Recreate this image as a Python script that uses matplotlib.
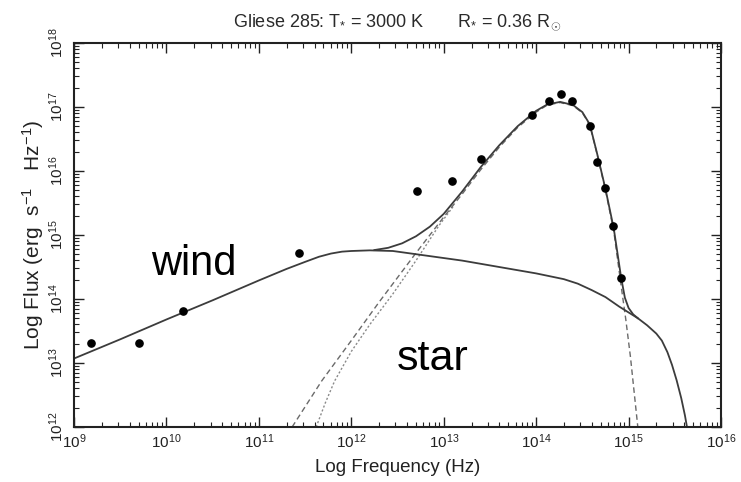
import matplotlib
matplotlib.use("Agg")
import matplotlib.pyplot as plt
import numpy as np
from matplotlib.ticker import FixedLocator, LogFormatterSciNotation, NullFormatter

plt.rcParams['font.family'] = ['Liberation Sans', 'DejaVu Sans']
plt.rcParams['mathtext.fontset'] = 'custom'
plt.rcParams['mathtext.rm'] = 'Liberation Sans'
plt.rcParams['mathtext.it'] = 'Liberation Sans:italic'
plt.rcParams['mathtext.bf'] = 'Liberation Sans:bold'

# Observed photometry of Gliese 285 (log10 frequency [Hz], log10 flux)
obs_lognu = [9.18, 9.70, 10.18, 11.43, 12.71, 13.09, 13.40, 13.95, 14.14,
             14.27, 14.39, 14.58, 14.66, 14.74, 14.83, 14.92]
obs_logf = [13.31, 13.31, 13.81, 14.72, 15.69, 15.84, 16.19, 16.875, 17.09,
            17.20, 17.09, 16.70, 16.14, 15.73, 15.14, 14.33]

# Wind model (free-free emission)
wind_lognu = [9.0, 9.5, 10.0, 10.5, 11.0, 11.3, 11.5, 11.65, 11.78, 11.9,
              12.0, 12.2, 12.45, 12.8, 13.2, 13.6, 14.0, 14.3, 14.45, 14.6,
              14.75, 14.9, 15.0, 15.1, 15.2, 15.3, 15.36, 15.42, 15.47, 15.52,
              15.57, 15.61, 15.65]
wind_logf = [13.07, 13.37, 13.68, 13.98, 14.29, 14.47, 14.58, 14.66, 14.71,
             14.74, 14.75, 14.76, 14.75, 14.68, 14.60, 14.50, 14.40, 14.31,
             14.24, 14.14, 14.03, 13.88, 13.79, 13.70, 13.59, 13.46, 13.35,
             13.17, 12.97, 12.73, 12.45, 12.18, 11.85]

# Stellar photosphere
star_lognu = [11.36, 11.68, 12.0, 12.3, 12.69, 13.0, 13.2, 13.4, 13.6, 13.8,
              14.0, 14.12, 14.26, 14.4, 14.5, 14.58, 14.66, 14.75, 14.84,
              14.92, 14.97, 15.02, 15.06, 15.10]
star_logf = [12.0, 12.72, 13.35, 13.95, 14.70, 15.28, 15.64, 16.02, 16.37,
             16.68, 16.92, 17.03, 17.07, 17.02, 16.91, 16.72, 16.26, 15.70,
             15.06, 14.20, 13.68, 13.10, 12.55, 12.0]

# Alternative photosphere model (dotted)
alt_lognu = [11.62, 11.72, 11.82, 12.0, 12.2, 12.45, 12.7, 12.95, 13.1]
alt_logf = [12.0, 12.38, 12.72, 13.18, 13.60, 14.08, 14.60, 15.15, 15.44]

# Star + wind
total_lognu = [12.25, 12.4, 12.55, 12.7, 12.85, 13.0, 13.2, 13.4, 13.6, 13.8,
               14.0, 14.12, 14.26, 14.4, 14.5, 14.58, 14.66, 14.75, 14.84,
               14.92, 14.96, 15.0, 15.05, 15.1]
total_logf = [14.765, 14.80, 14.87, 14.98, 15.13, 15.33, 15.68, 16.06, 16.40,
              16.70, 16.94, 17.04, 17.08, 17.03, 16.92, 16.73, 16.27, 15.72,
              15.10, 14.33, 14.02, 13.86, 13.76, 13.70]

# Axis decades
x_decades = [9, 10, 11, 12, 13, 14, 15, 16]
y_decades = [12, 13, 14, 15, 16, 17, 18]


def p(v):
    return 10.0 ** np.asarray(v, dtype=float)


def minor_ticks(decades):
    return [m * 10.0 ** d for d in decades[:-1] for m in range(2, 10)]


fig = plt.figure(figsize=(7.41, 4.82), dpi=100)
ax = fig.add_axes([74 / 741, 1 - 427 / 482, (721 - 74) / 741, (427 - 43) / 482])

line_col = '#3c3c3c'
ax.plot(p(alt_lognu), p(alt_logf), color='#8a8a8a', lw=1.0, ls=(0, (1.5, 1.5)))
ax.plot(p(star_lognu), p(star_logf), color='#6a6a6a', lw=1.0, ls=(0, (4, 2.5)))
ax.plot(p(wind_lognu), p(wind_logf), color=line_col, lw=1.3)
ax.plot(p(total_lognu), p(total_logf), color=line_col, lw=1.3)
ax.plot(p(obs_lognu), p(obs_logf), 'o', color='black', ms=5.2, mec='black')

ax.set_xscale('log')
ax.set_yscale('log')
ax.set_xlim(p(x_decades[0]), p(x_decades[-1]))
ax.set_ylim(p(y_decades[0]), p(y_decades[-1]))

ax.xaxis.set_major_locator(FixedLocator(p(x_decades)))
ax.yaxis.set_major_locator(FixedLocator(p(y_decades)))
ax.xaxis.set_major_formatter(LogFormatterSciNotation())
ax.yaxis.set_major_formatter(LogFormatterSciNotation())
ax.xaxis.set_minor_locator(FixedLocator(minor_ticks(x_decades)))
ax.yaxis.set_minor_locator(FixedLocator(minor_ticks(y_decades)))
ax.xaxis.set_minor_formatter(NullFormatter())
ax.yaxis.set_minor_formatter(NullFormatter())

ax.tick_params(which='both', direction='in', top=True, right=True, colors='#222222')
ax.tick_params(which='major', length=7, width=1.0, labelsize=11)
ax.tick_params(which='minor', length=3.5, width=0.8)
ax.tick_params(axis='y', labelrotation=90, pad=6)
ax.tick_params(axis='x', pad=4)
for lbl in ax.get_yticklabels():
    lbl.set_va('center')
for s in ax.spines.values():
    s.set_linewidth(1.5)
    s.set_color('#222222')

ax.set_xlabel('Log Frequency (Hz)', fontsize=13.5, labelpad=6, color='#222222')
ax.set_ylabel(r'Log Flux (erg  s$^{-1}$   Hz$^{-1}$)', fontsize=15, labelpad=1,
              color='#222222')
ax.set_title(r'Gliese 285: T$_{*}$ = 3000 K       R$_{*}$ = 0.36 R$_{\odot}$',
             fontsize=13, pad=12, color='#2a2a2a')

ax.text(p(9.83), p(14.375), 'wind', fontsize=30, color='black', ha='left',
        va='baseline')
ax.text(p(12.49), p(12.89), 'star', fontsize=31, color='black', ha='left',
        va='baseline')

fig.savefig('out.png', dpi=100)
